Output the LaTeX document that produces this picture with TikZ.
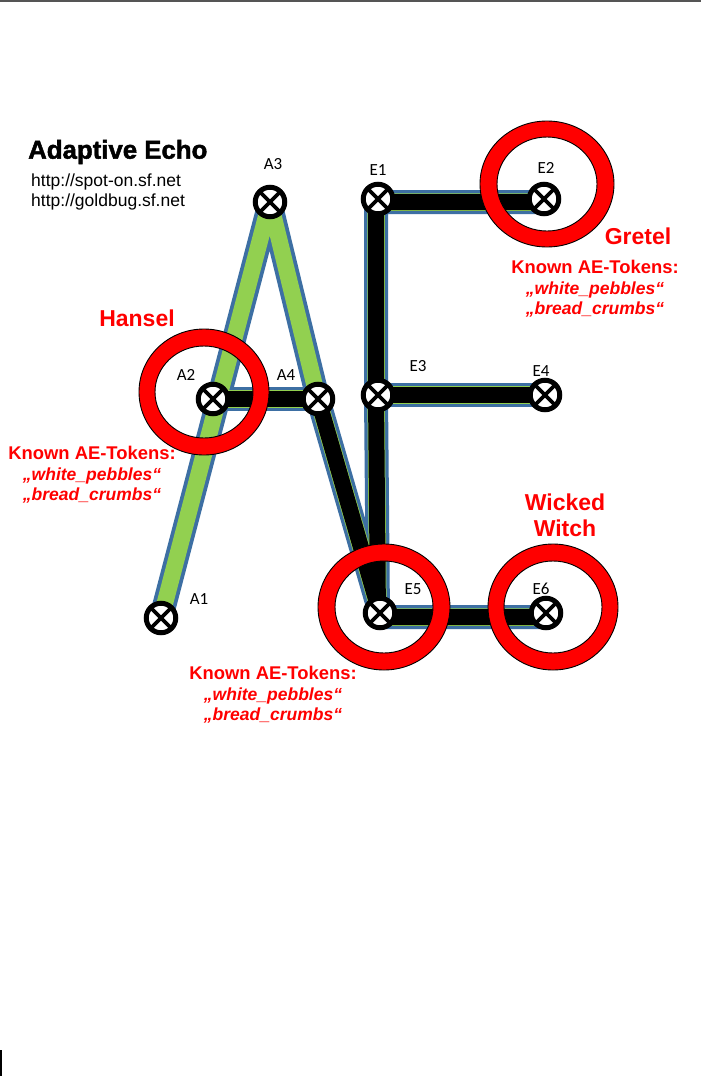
\documentclass[tikz,border=0pt]{standalone}
\usepackage{fontspec}
\setmainfont{Liberation Sans}
\newfontfamily\carl{Carlito}
\newfontfamily\heavy{Liberation Sans Bold}[FakeBold=1.8]
\definecolor{lnblue}{HTML}{3D6FA3}
\definecolor{lngreen}{HTML}{92D050}
\definecolor{topgray}{HTML}{555555}
\pgfdeclarelayer{bg}
\pgfdeclarelayer{mid}
\pgfsetlayers{bg,mid,main}
\tikzset{
  pt/.style={circle, draw=black, line width=5pt, fill=white, minimum size=29.5pt, inner sep=0pt,
    path picture={\draw[line width=3.8pt] (path picture bounding box.north west) -- (path picture bounding box.south east)
      (path picture bounding box.north east) -- (path picture bounding box.south west);}},
  lbl/.style={font=\carl\fontsize{17}{17}\selectfont, inner sep=0pt},
  edgeblue/.style={draw=lnblue, line width=24pt, line join=round},
  edgegreen/.style={draw=lngreen, line width=16.5pt, line join=round},
  edgethin/.style={draw=lngreen, line width=17.5pt, line join=round},
  edgeblack/.style={draw=black, line width=16pt, line join=round},
  ring/.style={fill=red, draw=black, line width=0.9pt, even odd rule},
  redlbl/.style={text=red, font=\bfseries\fontsize{23}{26}\selectfont, align=center, inner sep=0pt},
  tokens/.style={text=red, font=\bfseries\fontsize{17.5}{20.5}\selectfont, align=center, inner sep=0pt},
  url/.style={anchor=west, font=\fontsize{17.5}{20}\selectfont, inner sep=0pt},
}
\newcommand{\tokentext}{{\fontsize{18.4}{20.5}\selectfont Known AE-Tokens:}\\\textit{„white\_pebbles“}\\\textit{„bread\_crumbs“}}
\begin{document}
\begin{tikzpicture}[x=1pt,y=-1pt]
\useasboundingbox (0,0) rectangle (701,1076);
\begin{pgfonlayer}{bg}
\fill[white] (0,0) rectangle (701,1076);
\end{pgfonlayer}
\draw[line width=2pt, topgray] (0,1) -- (701,1);
\draw[line width=1.6pt, black] (1,1050) -- (1,1076);

% nodes
\node[pt] (A3) at (270,202) {};
\node[pt] (A2) at (213,399) {};
\node[pt] (A4) at (318,399) {};
\node[pt] (A1) at (161,618) {};
\node[pt] (E1) at (378,199) {};
\node[pt] (E2) at (544,199) {};
\node[pt] (E3) at (378,395) {};
\node[pt] (E4) at (545,395) {};
\node[pt] (E5) at (380,613) {};
\node[pt] (E6) at (546,613) {};

% lines
\begin{pgfonlayer}{bg}
\path[edgeblue] (A1.center) -- (A3.center) -- (A4.center) -- (E5.center);
\path[edgeblue] (A2.center) -- (A4.center);
\path[edgeblue] ([yshift=-3pt]E2.center) -- ([xshift=-2pt,yshift=-3pt]E1.center) -- ([xshift=-2pt]E3.center) -- ([xshift=-2pt,yshift=-4pt]E5.center) -- ([yshift=-4pt]E6.center);
\path[edgeblue] (E3.center) -- (E4.center);
\path[edgegreen] (A1.center) -- (A3.center) -- (A4.center);
\path[edgethin] (A4.center) -- (E5.center);
\path[edgethin] (A2.center) -- (A4.center);
\path[edgethin] ([yshift=-3pt]E2.center) -- ([xshift=-2pt,yshift=-3pt]E1.center) -- ([xshift=-2pt]E3.center) -- ([xshift=-2pt,yshift=-4pt]E5.center) -- ([yshift=-4pt]E6.center);
\path[edgethin] (E3.center) -- (E4.center);
\path[edgeblack] (A4.center) -- (E5.center);
\path[edgeblack] (A2.center) -- (A4.center);
\path[edgeblack] ([yshift=-3pt]E2.center) -- ([xshift=-2pt,yshift=-3pt]E1.center) -- ([xshift=-2pt]E3.center) -- ([xshift=-2pt,yshift=-4pt]E5.center) -- ([yshift=-4pt]E6.center);
\path[edgeblack] (E3.center) -- (E4.center);
\end{pgfonlayer}

% rings
\begin{pgfonlayer}{mid}
\path[ring] (204,392) ellipse[x radius=65, y radius=63] (204,392) ellipse[x radius=49, y radius=46];
\path[ring] (547,184) ellipse[x radius=67, y radius=63] (547,184) ellipse[x radius=50, y radius=47];
\path[ring] (384,607) ellipse[x radius=66, y radius=63] (384,607) ellipse[x radius=49, y radius=46];
\path[ring] (553,607) ellipse[x radius=65, y radius=63] (553,607) ellipse[x radius=49, y radius=46];
\end{pgfonlayer}

% point labels
\node[lbl] (lA3) at (273,164) {A3};
\node[lbl] (lA2) at (186,375) {A2};
\node[lbl] (lA4) at (286,375) {A4};
\node[lbl] (lA1) at (199,599) {A1};
\node[lbl] (lE1) at (378,170) {E1};
\node[lbl] (lE2) at (546,168) {E2};
\node[lbl] (lE3) at (418,366) {E3};
\node[lbl] (lE4) at (541,371) {E4};
\node[lbl] (lE5) at (413,589) {E5};
\node[lbl] (lE6) at (541,589) {E6};

% title and urls
\node[anchor=west, inner sep=0pt, font=\heavy\fontsize{25.8}{25.8}\selectfont] (title) at (28,152) {Adaptive Echo};
\node[url] (u1) at (31,182) {http://spot-on.sf.net};
\node[url] (u2) at (31,202) {http://goldbug.sf.net};

% red labels
\node[redlbl] (hansel) at (137,318) {Hansel};
\node[redlbl] (gretel) at (638,236) {Gretel};
\node[redlbl] (witch) at (565,515) {Wicked\\Witch};

\node[tokens] (tokA) at (92,475) {\tokentext};
\node[tokens] (tokG) at (595,289) {\tokentext};
\node[tokens] (tokE) at (273,695) {\tokentext};
\end{tikzpicture}
\end{document}
